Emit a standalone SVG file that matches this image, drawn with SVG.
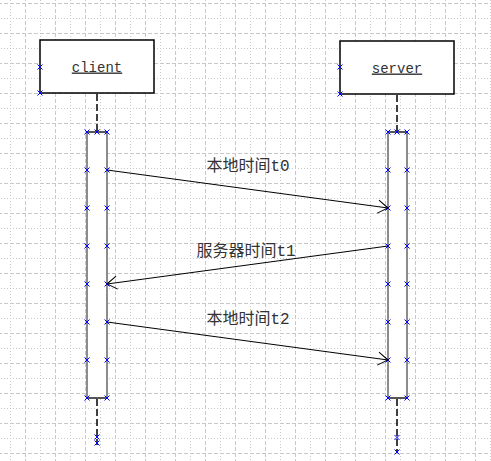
<svg xmlns="http://www.w3.org/2000/svg" xmlns:xlink="http://www.w3.org/1999/xlink" width="491" height="461" viewBox="0 0 491 461">
<style>
.box{fill:#fff;stroke:#000;stroke-width:1.5}
.act{fill:#fff;stroke:#808080;stroke-width:1.8}
.life{stroke:#000;stroke-width:1.5;stroke-dasharray:7 3;fill:none}
.msg{stroke:#000;stroke-width:1;fill:none;marker-end:url(#open)}
.name{font-family:"Liberation Mono",monospace;font-size:14px;fill:#333;text-anchor:middle;text-decoration:underline}
.lbl{font-family:"Liberation Mono","Noto Sans CJK SC",monospace;font-size:16px;fill:#333;text-anchor:middle}
.gd{stroke:#c8c8c8;stroke-width:1;stroke-dasharray:4 2}
.gt{stroke:#c8c8c8;stroke-width:1;stroke-dasharray:1 2}
</style>
<defs>
<pattern id="grid" patternUnits="userSpaceOnUse" x="10" y="3" width="30" height="30">
<line class="gd" x1="0" y1="0.5" x2="30" y2="0.5"/>
<line class="gt" x1="0" y1="15.5" x2="30" y2="15.5"/>
<line class="gt" x1="0.5" y1="0" x2="0.5" y2="30"/>
<line class="gd" x1="15.5" y1="0" x2="15.5" y2="30"/>
</pattern>
<marker id="open" markerUnits="userSpaceOnUse" markerWidth="14" markerHeight="16" refX="12" refY="8" orient="auto" overflow="visible">
<path d="M2,1.5 L12,8 L2,14.5" fill="none" stroke="#000" stroke-width="1"/>
</marker>
<path id="x" d="M-2.5,-2.5 L2.5,2.5 M-2.5,2.5 L2.5,-2.5" stroke="#0000ff" stroke-width="1" fill="none"/>
</defs>
<rect width="491" height="461" fill="#fff"/>
<rect width="491" height="461" fill="url(#grid)"/>

<g id="client">
<rect class="box" x="40" y="40" width="114" height="53"/>
<text class="name" x="97" y="71.5">client</text>
<line class="life" x1="97" y1="94" x2="97" y2="132"/>
<rect class="act" x="87" y="132" width="20" height="266"/>
<line x1="87" y1="132" x2="107" y2="132" stroke="#333" stroke-width="1.2"/>
<line x1="87" y1="398" x2="107" y2="398" stroke="#333" stroke-width="1.2"/>
<line class="life" x1="97" y1="399" x2="97" y2="445"/>
<g>
<use xlink:href="#x" x="40" y="67"/><use xlink:href="#x" x="40" y="93"/>
<use xlink:href="#x" x="97" y="132"/>
<use xlink:href="#x" x="87" y="132"/><use xlink:href="#x" x="107" y="132"/>
<use xlink:href="#x" x="87" y="170"/><use xlink:href="#x" x="107" y="170"/>
<use xlink:href="#x" x="87" y="208"/><use xlink:href="#x" x="107" y="208"/>
<use xlink:href="#x" x="87" y="246"/><use xlink:href="#x" x="107" y="246"/>
<use xlink:href="#x" x="87" y="284"/><use xlink:href="#x" x="107" y="284"/>
<use xlink:href="#x" x="87" y="322"/><use xlink:href="#x" x="107" y="322"/>
<use xlink:href="#x" x="87" y="360"/><use xlink:href="#x" x="107" y="360"/>
<use xlink:href="#x" x="87" y="398"/><use xlink:href="#x" x="107" y="398"/>
<use xlink:href="#x" x="97" y="437"/><use xlink:href="#x" x="97" y="443"/>
</g>
</g>

<g id="server">
<rect class="box" x="340" y="41" width="114" height="53"/>
<text class="name" x="397" y="72.5">server</text>
<line class="life" x1="397" y1="95" x2="397" y2="132"/>
<rect class="act" x="388" y="132" width="19" height="266"/>
<line x1="388" y1="132" x2="407" y2="132" stroke="#333" stroke-width="1.2"/>
<line x1="388" y1="398" x2="407" y2="398" stroke="#333" stroke-width="1.2"/>
<line class="life" x1="397" y1="399" x2="397" y2="453"/>
<g>
<use xlink:href="#x" x="340" y="67"/><use xlink:href="#x" x="340" y="94"/>
<use xlink:href="#x" x="397" y="132"/>
<use xlink:href="#x" x="388" y="132"/><use xlink:href="#x" x="407" y="132"/>
<use xlink:href="#x" x="388" y="170"/><use xlink:href="#x" x="407" y="170"/>
<use xlink:href="#x" x="388" y="208"/><use xlink:href="#x" x="407" y="208"/>
<use xlink:href="#x" x="388" y="246"/><use xlink:href="#x" x="407" y="246"/>
<use xlink:href="#x" x="388" y="284"/><use xlink:href="#x" x="407" y="284"/>
<use xlink:href="#x" x="388" y="322"/><use xlink:href="#x" x="407" y="322"/>
<use xlink:href="#x" x="388" y="360"/><use xlink:href="#x" x="407" y="360"/>
<use xlink:href="#x" x="388" y="398"/><use xlink:href="#x" x="407" y="398"/>
<use xlink:href="#x" x="397" y="437.5"/><use xlink:href="#x" x="397" y="452"/>
</g>
</g>

<g id="connectors">
<line class="msg" x1="107" y1="170" x2="388" y2="208"/>
<text class="lbl" x="248" y="171">本地时间t0</text>
<line class="msg" x1="388" y1="246" x2="107" y2="284"/>
<text class="lbl" x="246" y="256">服务器时间t1</text>
<line class="msg" x1="107" y1="322" x2="388" y2="360"/>
<text class="lbl" x="248" y="324">本地时间t2</text>
</g>
</svg>
